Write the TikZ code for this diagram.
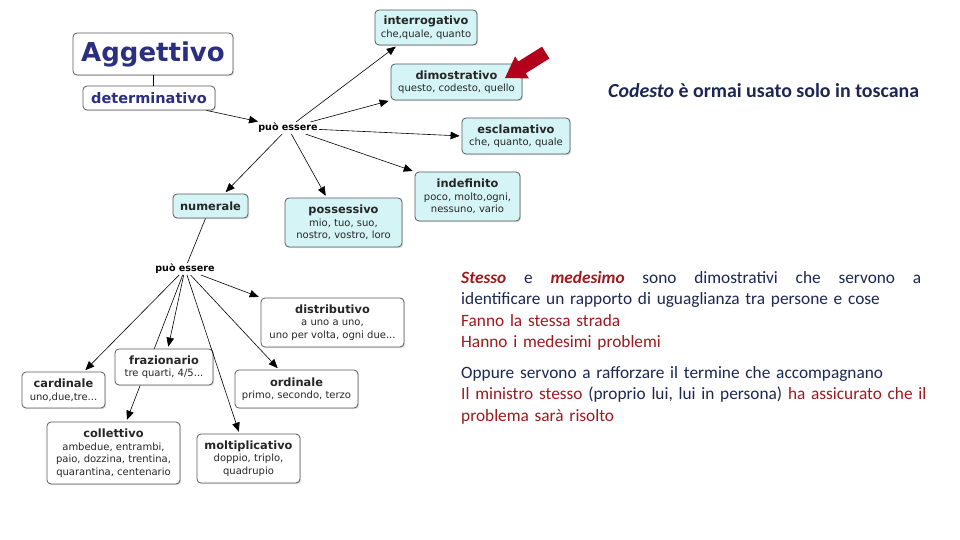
\documentclass[tikz,border=0pt]{standalone}
\usepackage{fontspec}
\setmainfont{Carlito}
\newfontfamily\mappafont{DejaVu Sans}
\usetikzlibrary{arrows.meta, shadows}

\definecolor{blunotte}{HTML}{1C2754}
\definecolor{rossoscuro}{HTML}{A0191E}
\definecolor{rossofreccia}{HTML}{B3001B}
\definecolor{cianchiaro}{HTML}{D4F4F6}
\definecolor{bordo}{HTML}{5A5A5A}
\definecolor{titolo}{HTML}{2B2F80}

\newcommand{\tit}[1]{{\bfseries\fontsize{11.4}{13}\selectfont #1}}
\newcommand{\rosso}[1]{\textcolor{rossoscuro}{#1}}

\tikzset{
  tipo/.style={draw=bordo, fill=cianchiaro, rounded corners=4pt, line width=0.8pt,
    align=center, inner sep=1pt, text=black!85,
    font=\mappafont\fontsize{10}{12.5}\selectfont,
    drop shadow={shadow xshift=1.2pt, shadow yshift=-1.2pt, fill=gray!60, opacity=.4}},
  voce/.style={tipo, fill=white},
  freccia/.style={-{Triangle[length=9pt,width=7.5pt]}, line width=0.6pt, shorten >=2pt},
  legame/.style={line width=0.6pt},
  puoessere/.style={font=\mappafont\bfseries\fontsize{9.6}{11}\selectfont, inner sep=1pt}
}

\begin{document}
\begin{tikzpicture}[x=1pt, y=-1pt]
  \useasboundingbox (0,0) rectangle (960,540);
  \fill[white] (0,0) rectangle (960,540);

  % Aggettivo determinativo
  \node[voce, minimum width=160, minimum height=42, text=titolo,
    font=\mappafont\bfseries\fontsize{26}{30}\selectfont] (agg) at (153,54) {Aggettivo};
  \node[voce, minimum width=132, minimum height=24, text=titolo,
    font=\mappafont\bfseries\fontsize{14.5}{16}\selectfont] (det) at (149,98) {determinativo};
  \draw[legame] (agg.south) -- (agg.south |- det.north);

  % primo livello
  \node[puoessere] (pe1) at (288,128) {può essere};
  \node[tipo, minimum width=102, minimum height=35] (intg) at (426,27.5)
    {\tit{interrogativo}\\che,quale, quanto};
  \node[tipo, minimum width=131, minimum height=36] (dimo) at (456.5,82)
    {\tit{dimostrativo}\\questo, codesto, quello};
  \node[tipo, minimum width=108, minimum height=36] (escl) at (516,136)
    {\tit{esclamativo}\\che, quanto, quale};
  \node[tipo, minimum width=105, minimum height=49] (indf) at (467.5,196.5)
    {\tit{indefinito}\\poco, molto,ogni,\\nessuno, vario};
  \node[tipo, minimum width=117, minimum height=49] (poss) at (343.5,222.5)
    {\tit{possessivo}\\mio, tuo, suo,\\nostro, vostro, loro};
  \node[tipo, minimum width=75, minimum height=24] (numr) at (210.5,206)
    {\tit{numerale}};

  \draw[freccia] (det) -- (pe1);
  \draw[freccia] (pe1) -- (intg.212);
  \draw[freccia] (pe1) -- (dimo.south west);
  \draw[freccia] (pe1) -- (escl.west);
  \draw[freccia] (pe1) -- (indf.north west);
  \draw[freccia] (pe1) -- (poss.124);
  \draw[freccia] (pe1) -- (numr.42);

  % freccia rossa
  \fill[rossofreccia] (505,78) -- (515.1,56.4) -- (518.3,61.5) -- (542.0,46.7)
    -- (549.4,58.5) -- (525.7,73.3) -- (528.9,78.4) -- cycle;

  % secondo livello (numerale)
  \node[puoessere] (pe2) at (185,269) {può essere};
  \draw[legame] (numr) -- (pe2);

  \node[voce, minimum width=133, minimum height=62] (coll) at (113.5,453)
    {\tit{collettivo}\\ambedue, entrambi,\\paio, dozzina, trentina,\\quarantina, centenario};
  \draw[freccia] (pe2) -- (coll.68);

  \node[voce, minimum width=143, minimum height=49] (distr) at (332.5,322.5)
    {\tit{distributivo}\\a uno a uno,\\uno per volta, ogni due...};
  \node[voce, minimum width=98, minimum height=36] (fraz) at (164,367)
    {\tit{frazionario}\\tre quarti, 4/5...};
  \node[voce, minimum width=83, minimum height=36] (card) at (63.5,390)
    {\tit{cardinale}\\uno,due,tre...};
  \node[voce, minimum width=123, minimum height=38] (ord) at (296.5,389)
    {\tit{ordinale}\\primo, secondo, terzo};
  \node[voce, minimum width=103, minimum height=49] (molt) at (248.5,458.5)
    {\tit{moltiplicativo}\\doppio, triplo,\\quadrupio};

  \draw[freccia] (pe2) -- (card.42);
  \draw[freccia] (pe2) -- (fraz.78);
  \draw[freccia] (pe2) -- (molt.110);
  \draw[freccia] (pe2) -- (ord.132);
  \draw[freccia] (pe2) -- (distr.north west);

  % testo a destra
  \node[anchor=west, inner sep=0, text=blunotte,
    font=\bfseries\fontsize{19.9}{22}\selectfont] (nota) at (608,91)
    {\textit{Codesto} è ormai usato solo in toscana};

  \node[anchor=north west, inner sep=0, text width=470pt, align=left, text=blunotte,
    font=\fontsize{17.3}{21.5}\selectfont] (spiega) at (461,271)
    {\hbox to 460pt{\rosso{\textbf{\textit{Stesso}}}\hfill e\hfill \rosso{\textbf{\textit{medesimo}}}\hfill sono\hfill dimostrativi\hfill che\hfill servono\hfill a}\\
     identificare un rapporto di uguaglianza tra persone e cose\\
     \rosso{Fanno la stessa strada}\\
     \rosso{Hanno i medesimi problemi}\\[9pt]
     Oppure servono a rafforzare il termine che accompagnano\\
     \rosso{Il ministro stesso} (proprio lui, lui in persona) \rosso{ha assicurato che il}\\
     \rosso{problema sarà risolto}};
\end{tikzpicture}
\end{document}
